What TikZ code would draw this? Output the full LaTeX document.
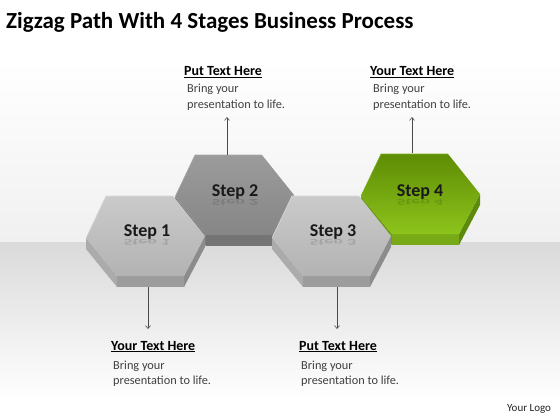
\documentclass[tikz,border=0pt]{standalone}
\usepackage{fontspec}
\setmainfont{Carlito}
\usetikzlibrary{arrows.meta}
\definecolor{gA}{HTML}{CACACA}
\definecolor{gB}{HTML}{B3B3B3}
\definecolor{gL}{HTML}{ABABAB}
\definecolor{gD}{HTML}{9C9C9C}
\definecolor{gR}{HTML}{8C8C8C}
\definecolor{gH}{HTML}{D9D9D9}
\definecolor{dA}{HTML}{9B9B9B}
\definecolor{dB}{HTML}{868686}
\definecolor{dL}{HTML}{7E7E7E}
\definecolor{dD}{HTML}{747474}
\definecolor{dR}{HTML}{6A6A6A}
\definecolor{dH}{HTML}{A8A8A8}
\definecolor{vA}{HTML}{5E8C04}
\definecolor{vB}{HTML}{8DC41C}
\definecolor{vL}{HTML}{6E9E10}
\definecolor{vD}{HTML}{78AA18}
\definecolor{vR}{HTML}{5E8A0C}
\definecolor{vH}{HTML}{7FB020}
\definecolor{bodyc}{HTML}{404040}
\definecolor{arrc}{HTML}{4A4A4A}
\definecolor{bgl}{HTML}{DADADA}
\definecolor{bgu}{HTML}{F0F0F0}
\newcommand\hexblock[8]{%
\begin{scope}[shift={(#1,#2)}]
 \fill[#5] (86,238)--(86,249)--(117,287)--(117,276)--cycle;
 \fill[#6] (117,276)--(117,287)--(184,287)--(184,276)--cycle;
 \fill[#7] (184,276)--(184,287)--(205,247)--(205,236)--cycle;
 \shade[top color=#3,bottom color=#4] (106,196)--(173,196)--(205,236)--(184,276)--(117,276)--(86,238)--cycle;
 \draw[#8,line width=0.6pt,line join=round] (86,238)--(106,196)--(173,196);
\end{scope}}
\tikzset{
  steplabel/.style={font=\bfseries\fontsize{18}{20}\selectfont,text=black!90,anchor=base,inner sep=0pt},
  refl/.style={font=\bfseries\fontsize{18}{20}\selectfont,text=black,text opacity=0.13,anchor=north,inner sep=0pt},
  headtxt/.style={font=\bfseries\fontsize{14}{16}\selectfont,anchor=base west,inner sep=0pt},
  bodytxt/.style={font=\fontsize{12.3}{15}\selectfont,text=bodyc,anchor=base west,inner sep=0pt},
  conn/.style={draw=arrc,line width=0.6pt,-{Straight Barb[length=3pt,width=5pt]}}
}
\begin{document}
\begin{tikzpicture}[x=1pt,y=-1pt]
\useasboundingbox (0,0) rectangle (560,420);
% background
\shade[top color=white,bottom color=bgu] (0,60) rectangle (560,242.5);
\fill[white] (0,0) rectangle (560,60);
\shade[top color=bgl,bottom color=white] (0,242.5) rectangle (560,400);
\fill[white] (0,400) rectangle (560,420);
% title
\node[font=\bfseries\fontsize{23}{27}\selectfont,anchor=base west,inner sep=0pt] (title) at (6,28.3) {Zigzag Path With 4 Stages Business Process};
% hexagons (back ones first)
\hexblock{89}{-41}{dA}{dB}{dL}{dD}{dR}{dH}
\hexblock{275}{-42}{vA}{vB}{vL}{vD}{vR}{vH}
\hexblock{0}{0}{gA}{gB}{gL}{gD}{gR}{gH}
\hexblock{186}{0}{gA}{gB}{gL}{gD}{gR}{gH}
% step labels
\node[refl] at (147,237.5) {\scalebox{1}[-0.5]{Step 1}};
\node[refl] at (235,198) {\scalebox{1}[-0.5]{Step 2}};
\node[refl] at (333,237.5) {\scalebox{1}[-0.5]{Step 3}};
\node[refl] at (420,198) {\scalebox{1}[-0.5]{Step 4}};
\node[steplabel] (s1) at (147,236) {Step 1};
\node[steplabel] (s2) at (235,196.5) {Step 2};
\node[steplabel] (s3) at (333,236) {Step 3};
\node[steplabel] (s4) at (420,196.5) {Step 4};
% connector anchors
\coordinate (s1b) at (148,287);
\coordinate (s1t) at (148,329);
\coordinate (s3b) at (337,287);
\coordinate (s3t) at (337,329);
\coordinate (s2b) at (227,155);
\coordinate (s2t) at (227,117);
\coordinate (s4b) at (412,153);
\coordinate (s4t) at (412,117);
\draw[conn] (s1b) -- (s1t);
\draw[conn] (s3b) -- (s3t);
\draw[conn] (s2b) -- (s2t);
\draw[conn] (s4b) -- (s4t);
% texts
\node[headtxt] (h2) at (184,76) {\underline{Put Text Here}};
\node[bodytxt] (b2a) at (187,92.5) {Bring your};
\node[bodytxt] (b2b) at (187,108) {presentation to life.};
\node[headtxt] (h4) at (370,76) {\underline{Your Text Here}};
\node[bodytxt] (b4a) at (373,92.5) {Bring your};
\node[bodytxt] (b4b) at (373,108) {presentation to life.};
\node[headtxt] (h1) at (111,350) {\underline{Your Text Here}};
\node[bodytxt] (b1a) at (113,369.5) {Bring your};
\node[bodytxt] (b1b) at (113,384.5) {presentation to life.};
\node[headtxt] (h3) at (299,350) {\underline{Put Text Here}};
\node[bodytxt] (b3a) at (301,369.5) {Bring your};
\node[bodytxt] (b3b) at (301,384.5) {presentation to life.};
\node[font=\fontsize{11}{13}\selectfont,text=black!85,anchor=base west,inner sep=0pt] (logo) at (507,411) {Your Logo};
\end{tikzpicture}
\end{document}
